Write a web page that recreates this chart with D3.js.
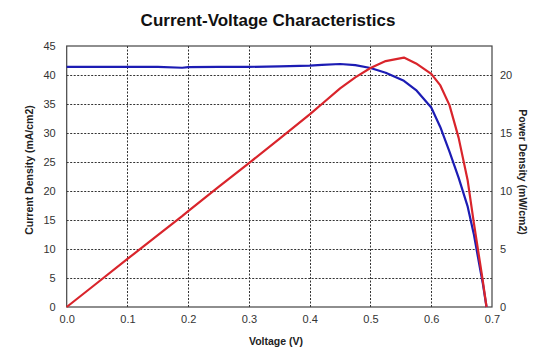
<!DOCTYPE html>
<html><head><meta charset="utf-8">
<script src="https://cdn.jsdelivr.net/npm/d3@7"></script>
<style>body{margin:0;background:#fff}svg{display:block;font-family:"Liberation Sans",Arial,sans-serif}</style>
</head><body><svg id="c" width="540" height="358"></svg>
<script>
const voltage = [0, 0.05, 0.1, 0.15, 0.19, 0.2, 0.25, 0.3, 0.35, 0.4, 0.42, 0.45, 0.475, 0.5, 0.525, 0.555, 0.575, 0.6, 0.615, 0.63, 0.645, 0.66, 0.67, 0.68, 0.685, 0.691];
const currentDensity = [41.4, 41.4, 41.4, 41.4, 41.25, 41.35, 41.4, 41.4, 41.5, 41.6, 41.75, 41.9, 41.7, 41.2, 40.4, 39.0, 37.4, 34.4, 31.0, 26.8, 22.3, 17.3, 12.6, 6.8, 4.0, 0];
const powerDensity = [0, 2.07, 4.14, 6.2, 7.84, 8.27, 10.35, 12.4, 14.5, 16.6, 17.5, 18.85, 19.8, 20.6, 21.2, 21.5, 21.0, 20.1, 19.1, 17.4, 14.6, 10.9, 7.3, 3.9, 2.2, 0];
const xTicks = [0, 0.1, 0.2, 0.3, 0.4, 0.5, 0.6, 0.7];
const leftTicks = [0, 5, 10, 15, 20, 25, 30, 35, 40, 45];
const rightTicks = [0, 5, 10, 15, 20];

const svg = d3.select("#c");
const L = 66.7, R = 492, T = 46, B = 307;
const x = d3.scaleLinear().domain([0, 0.7]).range([L, R]);
const yL = d3.scaleLinear().domain([0, 45]).range([B, T]);
const yR = d3.scaleLinear().domain([0, 22.5]).range([B, T]);

// grid
const grid = svg.append("g").attr("stroke", "#333").attr("stroke-width", 1).attr("stroke-dasharray", "2,1.5");
grid.selectAll(".gx").data(xTicks.slice(1, -1)).join("line")
  .attr("x1", d => Math.round(x(d)) + 0.5).attr("x2", d => Math.round(x(d)) + 0.5)
  .attr("y1", T).attr("y2", B);
grid.selectAll(".gy").data(leftTicks.slice(1, -1)).join("line")
  .attr("y1", d => Math.round(yL(d)) + 0.5).attr("y2", d => Math.round(yL(d)) + 0.5)
  .attr("x1", L).attr("x2", R);

// axes (labels only)
const axL = d3.axisLeft(yL).tickValues(leftTicks).tickSize(0).tickPadding(11).tickFormat(d3.format("d"));
const axR = d3.axisRight(yR).tickValues(rightTicks).tickSize(0).tickPadding(8).tickFormat(d3.format("d"));
const axB = d3.axisBottom(x).tickValues(xTicks).tickSize(0).tickPadding(8).tickFormat(d3.format(".1f"));
[[axL, `translate(${L},0)`], [axR, `translate(${R},0)`], [axB, `translate(0,${B})`]].forEach(([a, t]) => {
  const g = svg.append("g").attr("transform", t).call(a);
  g.select(".domain").remove();
  g.selectAll("text").attr("font-size", 11).attr("fill", "#333").attr("font-family", "Liberation Sans, Arial, sans-serif");
});

// border
svg.append("rect").attr("x", L).attr("y", T).attr("width", R - L).attr("height", B - T)
  .attr("fill", "none").attr("stroke", "#444").attr("stroke-width", 1.2);

// lines
const lineJ = d3.line().x((d, i) => x(voltage[i])).y(d => yL(d));
const lineP = d3.line().x((d, i) => x(voltage[i])).y(d => yR(d));
svg.append("path").datum(currentDensity).attr("d", lineJ).attr("fill", "none")
  .attr("stroke", "#1c1cb4").attr("stroke-width", 2.2).attr("stroke-linejoin", "round");
svg.append("path").datum(powerDensity).attr("d", lineP).attr("fill", "none")
  .attr("stroke", "#d9242b").attr("stroke-width", 2.2).attr("stroke-linejoin", "round");

// titles
svg.append("text").attr("x", 268).attr("y", 26).attr("text-anchor", "middle")
  .attr("font-size", 17).attr("font-weight", "bold").attr("fill", "#111").text("Current-Voltage Characteristics");
svg.append("text").attr("x", 276).attr("y", 345).attr("text-anchor", "middle")
  .attr("font-size", 10.5).attr("font-weight", "bold").attr("fill", "#222").text("Voltage (V)");
svg.append("text").attr("transform", "translate(33,170) rotate(-90)").attr("text-anchor", "middle")
  .attr("font-size", 10.5).attr("font-weight", "bold").attr("fill", "#222").text("Current Density (mA/cm2)");
svg.append("text").attr("transform", "translate(519,172) rotate(90)").attr("text-anchor", "middle")
  .attr("font-size", 10.5).attr("font-weight", "bold").attr("fill", "#222").text("Power Density (mW/cm2)");
</script></body></html>
